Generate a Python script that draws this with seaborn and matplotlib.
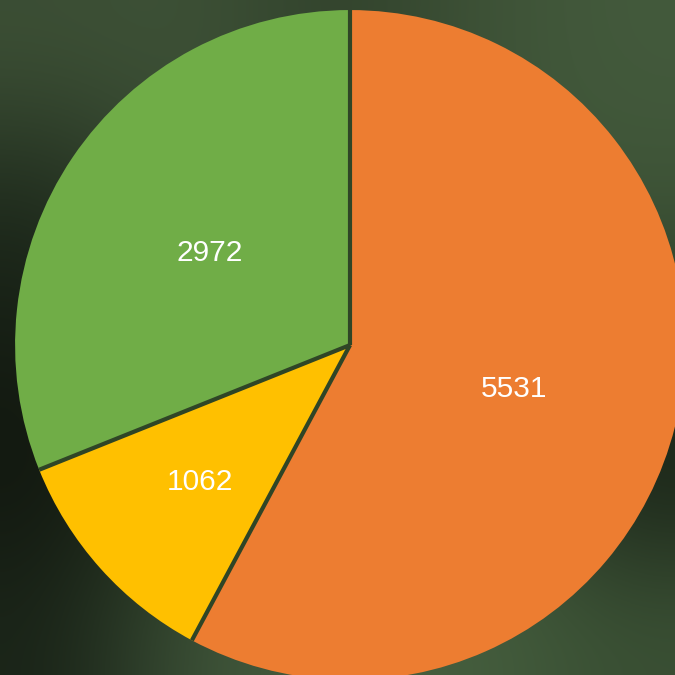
import matplotlib.pyplot as plt
import matplotlib.colors as mcolors
import seaborn as sns
import numpy as np

# 数据
labels = ['A', 'B', 'C']
values = [5531, 1062, 2972]
colors = ['#ED7D31', '#FFC000', '#70AD47']
label_dist = [0.505, 0.6, 0.505]

sns.set_theme(style='white')
plt.rcParams['font.family'] = ['Liberation Sans', 'DejaVu Sans']

fig = plt.figure(figsize=(6.75, 6.75), dpi=100)

# 背景（模糊的深绿色照片效果）
bg_hex = [
    ['#3c4f35', '#3e5237', '#2f3f2a', '#3e5237', '#435a3c'],
    ['#1e2a1c', '#3c5036', '#3a4e33', '#3e5437', '#3f5538'],
    ['#151d13', '#34462f', '#3d5236', '#3a4f34', '#2a3a25'],
    ['#10150e', '#28361f', '#40563a', '#44593d', '#151d13'],
    ['#1a2418', '#3f553a', '#455c3d', '#46603f', '#3a5034'],
]
bg = np.array([[mcolors.to_rgb(c) for c in row] for row in bg_hex])
ax_bg = fig.add_axes([0, 0, 1, 1])
ax_bg.imshow(bg, interpolation='bicubic', aspect='auto', extent=[0, 1, 0, 1])
ax_bg.set_axis_off()

# 饼图
ax = fig.add_axes([0, 0, 1, 1])
ax.set_facecolor('none')
wedges, texts = ax.pie(
    values,
    colors=colors,
    startangle=90,
    counterclock=False,
    radius=1,
    wedgeprops=dict(linewidth=0),
)

# 分隔线（只画半径方向，不画外圈）
for w in wedges:
    t = np.deg2rad(w.theta1)
    ax.plot([0, w.r * np.cos(t)], [0, w.r * np.sin(t)],
            color='#2f4526', linewidth=3, solid_capstyle='butt')

# 数值标签
for w, v, d in zip(wedges, values, label_dist):
    mid = np.deg2rad((w.theta1 + w.theta2) / 2)
    ax.text(d * np.cos(mid), d * np.sin(mid) - 0.009, f'{v}',
            ha='center', va='center', color='white', fontsize=21.5)

ax.set_xlim(-1.045, 0.970)
ax.set_ylim(-0.985, 1.030)
ax.set_aspect('equal')
ax.set_axis_off()

fig.savefig('out.png', dpi=100)
